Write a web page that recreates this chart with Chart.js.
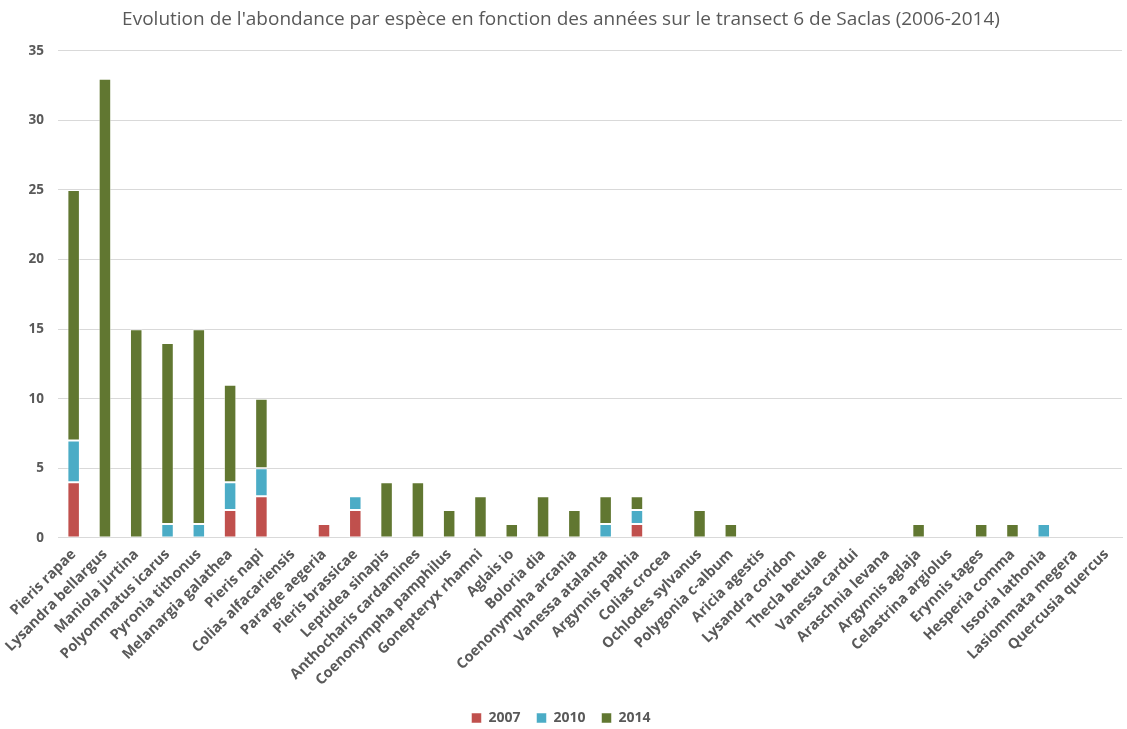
<!DOCTYPE html>
<html>
<head>
<meta charset="utf-8">
<script src="https://cdn.jsdelivr.net/npm/chart.js@4/dist/chart.umd.min.js"></script>
<style>
  html, body { margin: 0; padding: 0; background: #fff; }
  #wrap { width: 1127px; height: 729px; position: relative; }
</style>
</head>
<body>
<div id="wrap"><canvas id="chart"></canvas></div>
<script>
const species = [
  'Pieris rapae', 'Lysandra bellargus', 'Maniola jurtina', 'Polyommatus icarus',
  'Pyronia tithonus', 'Melanargia galathea', 'Pieris napi', 'Colias alfacariensis',
  'Pararge aegeria', 'Pieris brassicae', 'Leptidea sinapis', 'Anthocharis cardamines',
  'Coenonympha pamphilus', 'Gonepteryx rhamni', 'Aglais io', 'Boloria dia',
  'Coenonympha arcania', 'Vanessa atalanta', 'Argynnis paphia', 'Colias crocea',
  'Ochlodes sylvanus', 'Polygonia c-album', 'Aricia agestis', 'Lysandra coridon',
  'Thecla betulae', 'Vanessa cardui', 'Araschnia levana', 'Argynnis aglaja',
  'Celastrina argiolus', 'Erynnis tages', 'Hesperia comma', 'Issoria lathonia',
  'Lasiommata megera', 'Quercusia quercus'
];
const years = ['2007', '2010', '2014'];
const counts2007 = [4, 0, 0, 0, 0, 2, 3, 0, 1, 2, 0, 0, 0, 0, 0, 0, 0, 0, 1, 0, 0, 0, 0, 0, 0, 0, 0, 0, 0, 0, 0, 0, 0, 0];
const counts2010 = [3, 0, 0, 1, 1, 2, 2, 0, 0, 1, 0, 0, 0, 0, 0, 0, 0, 1, 1, 0, 0, 0, 0, 0, 0, 0, 0, 0, 0, 0, 0, 1, 0, 0];
const counts2014 = [18, 33, 15, 13, 14, 7, 5, 0, 0, 0, 4, 4, 2, 3, 1, 3, 2, 2, 1, 0, 2, 1, 0, 0, 0, 0, 0, 1, 0, 1, 1, 0, 0, 0];
const yTicks = [0, 5, 10, 15, 20, 25, 30, 35];

const colors = ['#C0504D', '#4BACC6', '#617731'];
const series = [counts2007, counts2010, counts2014];

const ctx = document.getElementById('chart');
new Chart(ctx, {
  type: 'bar',
  data: {
    labels: species,
    datasets: years.map((y, i) => ({
      label: y,
      data: series[i],
      backgroundColor: colors[i],
      borderColor: 'rgba(255,255,255,0.5)',
      borderWidth: 1,
      borderSkipped: false,
      categoryPercentage: 1,
      barPercentage: 0.4
    }))
  },
  options: {
    responsive: true,
    maintainAspectRatio: false,
    animation: false,
    layout: { padding: { left: 0, right: 5, top: 8, bottom: -6 } },
    plugins: {
      title: {
        display: true,
        text: "Evolution de l'abondance par espèce en fonction des années sur le transect 6 de Saclas (2006-2014)",
        color: '#595959',
        font: { family: 'Open Sans', size: 19, weight: 'normal' },
        padding: { top: 0, bottom: 20 }
      },
      legend: {
        position: 'bottom',
        labels: {
          color: '#595959',
          font: { family: 'Open Sans', size: 14, weight: 'bold' },
          boxWidth: 10,
          boxHeight: 10,
          padding: 16
        }
      },
      tooltip: { enabled: false }
    },
    scales: {
      x: {
        stacked: true,
        grid: { display: false },
        border: { color: '#D9D9D9' },
        afterFit: (axis) => { axis.height += 6; },
        ticks: {
          color: '#595959',
          font: { family: 'Open Sans', size: 14.5, weight: 'bold' },
          minRotation: 45,
          maxRotation: 45,
          autoSkip: false,
          padding: 0
        }
      },
      y: {
        stacked: true,
        min: 0,
        max: 35,
        afterBuildTicks: (axis) => { axis.ticks = yTicks.map(v => ({ value: v })); },
        afterFit: (axis) => { axis.width = 58; },
        grid: { color: '#D9D9D9', drawTicks: false },
        border: { display: false },
        ticks: {
          color: '#595959',
          font: { family: 'Open Sans', size: 13.5, weight: 'bold' },
          padding: 14
        }
      }
    }
  }
});
</script>
</body>
</html>
